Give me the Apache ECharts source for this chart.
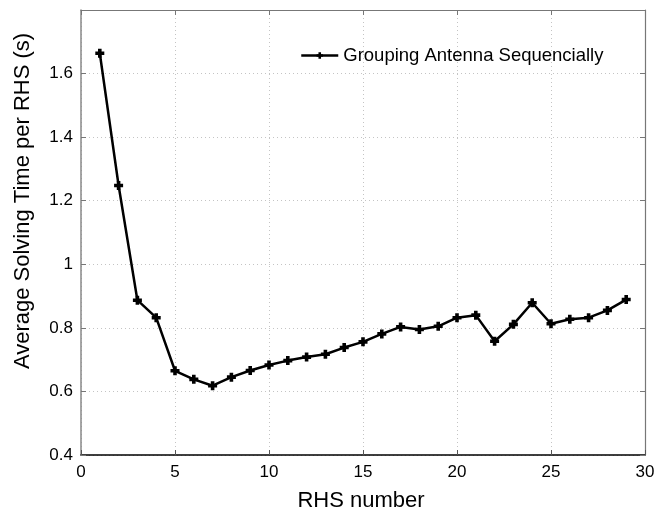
<!DOCTYPE html>
<html>
<head>
<meta charset="utf-8">
<script src="https://cdn.jsdelivr.net/npm/echarts@6/dist/echarts.min.js"></script>
<style>
  html, body { margin: 0; padding: 0; background: #fff; }
  #chart { width: 661px; height: 510px; }
</style>
</head>
<body>
<div id="chart"></div>
<script>
// RHS count and the measured average solving time for each
const rhsNumbers = [1, 2, 3, 4, 5, 6, 7, 8, 9, 10, 11, 12, 13, 14, 15, 16, 17, 18, 19, 20, 21, 22, 23, 24, 25, 26, 27, 28, 29];
const solvingTimes = [1.664, 1.248, 0.887, 0.832, 0.665, 0.638, 0.618, 0.645, 0.666, 0.683, 0.697, 0.708, 0.717, 0.738, 0.756, 0.781, 0.803, 0.795, 0.805, 0.832, 0.840, 0.758, 0.811, 0.879, 0.813, 0.827, 0.832, 0.855, 0.889];
const seriesName = 'Grouping Antenna Sequencially';
const xTitle = 'RHS number';
const yTitle = 'Average Solving Time per RHS (s)';

const FONT = '"Liberation Sans", Arial, Helvetica, sans-serif';
// heavy plus-shaped marker
const plusSymbol = 'path://M3,0 H7 V3 H10 V7 H7 V10 H3 V7 H0 V3 H3 Z';

const chart = echarts.init(document.getElementById('chart'), null, { renderer: 'canvas' });

const gridLine = { show: true, lineStyle: { color: '#c4c4c4', type: [1, 3], width: 1 } };

chart.setOption({
  animation: false,
  backgroundColor: '#ffffff',
  grid: { left: 81, right: 16, top: 10, bottom: 55 },
  legend: {
    left: 295,
    top: 41,
    itemWidth: 37,
    itemHeight: 8,
    lineStyle: { width: 2.5, color: '#000' },
    textStyle: { fontFamily: FONT, fontSize: 18.5, color: '#000' },
    data: [seriesName]
  },
  xAxis: [{
    type: 'value', min: 0, max: 30, interval: 5, position: 'bottom',
    axisLine: { show: true, onZero: false, lineStyle: { color: '#000', width: 1.5 } },
    axisTick: { show: true, inside: true, length: 5, lineStyle: { color: '#555' } },
    axisLabel: { fontFamily: FONT, fontSize: 17, color: '#000', margin: 9 },
    splitLine: gridLine
  }, {
    type: 'value', min: 0, max: 30, interval: 5, position: 'top',
    axisLine: { show: true, onZero: false, lineStyle: { color: '#777', width: 1.2 } },
    axisTick: { show: true, inside: true, length: 5, lineStyle: { color: '#777' } },
    axisLabel: { show: false },
    splitLine: { show: false }
  }],
  yAxis: [{
    type: 'value', min: 0.4, max: 1.8, interval: 0.2, position: 'left',
    axisLine: { show: true, onZero: false, lineStyle: { color: '#888', width: 1.5 } },
    axisTick: { show: true, inside: true, length: 5, lineStyle: { color: '#777' } },
    axisLabel: {
      fontFamily: FONT, fontSize: 17, color: '#000', margin: 8, showMaxLabel: false,
      formatter: v => String(Math.round(v * 10) / 10)
    },
    splitLine: gridLine
  }, {
    type: 'value', min: 0.4, max: 1.8, interval: 0.2, position: 'right',
    axisLine: { show: true, onZero: false, lineStyle: { color: '#777', width: 1.2 } },
    axisTick: { show: true, inside: true, length: 5, lineStyle: { color: '#777' } },
    axisLabel: { show: false },
    splitLine: { show: false }
  }],
  series: [{
    name: seriesName,
    type: 'line',
    data: rhsNumbers.map((x, i) => [x, solvingTimes[i]]),
    symbol: plusSymbol,
    symbolSize: 9,
    showAllSymbol: true,
    lineStyle: { color: '#000', width: 2.5 },
    itemStyle: { color: '#000' },
    emphasis: { disabled: true }
  }],
  graphic: [{
    type: 'text',
    x: 361,
    y: 490,
    style: { text: xTitle, fontFamily: FONT, fontSize: 22, fill: '#000', align: 'center', verticalAlign: 'top' }
  }, {
    type: 'text',
    x: 12,
    y: 201,
    rotation: Math.PI / 2,
    style: {
      text: yTitle, fontFamily: FONT, fontSize: 22, fill: '#000',
      align: 'center', verticalAlign: 'top'
    }
  }]
});
</script>
</body>
</html>
